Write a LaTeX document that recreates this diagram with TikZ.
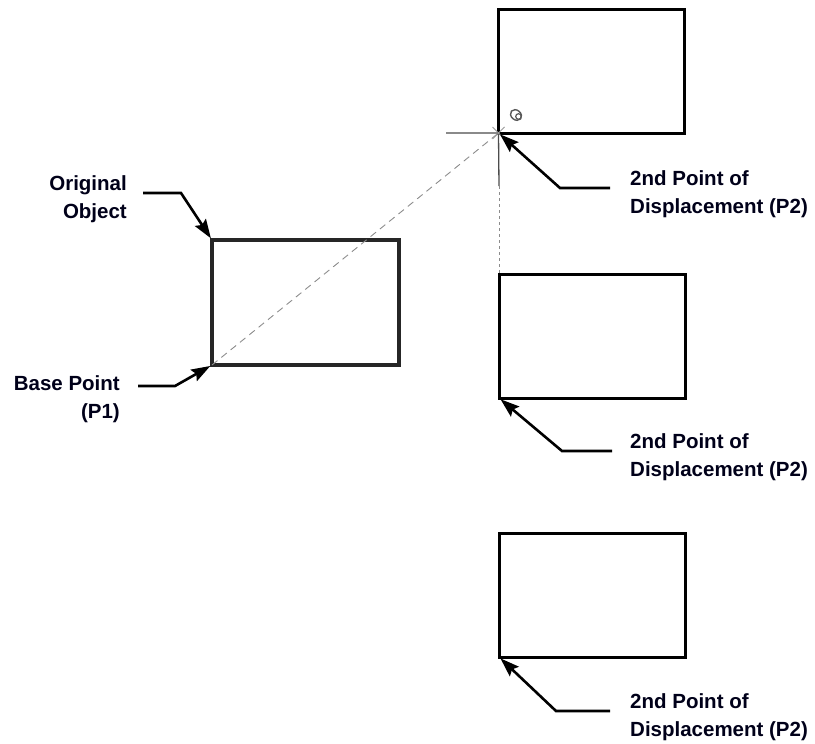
\documentclass[tikz,border=0pt]{standalone}
\usepackage{fontspec}
\setmainfont{Liberation Sans}
\usetikzlibrary{arrows.meta,calc}
\begin{document}
\begin{tikzpicture}[x=1pt,y=-1pt,
  objbox/.style={draw=black, line width=3pt, outer sep=0pt, inner sep=0pt,
                 minimum width=186pt, minimum height=124pt},
  origbox/.style={objbox, draw=black!85, line width=3.6pt, minimum width=187pt, minimum height=125pt},
  pointer/.style={line width=2.6pt, line join=miter,
                  -{Stealth[length=19pt,width=13pt,inset=3pt]}, shorten >=2pt},
  lbl/.style={font=\fontsize{20.5}{28}\selectfont\bfseries, text=black!90!blue,
              inner sep=0pt, anchor=north west, align=left},
  lblr/.style={lbl, anchor=north east, align=right},
  guide/.style={draw=black!45, line width=0.9pt, dash pattern=on 7pt off 5pt},
  cross/.style={draw=black!70, line width=1.3pt}]
\useasboundingbox (0,0) rectangle (815,744);

% the object and its three copies
\node[origbox] (orig) at (305.5,302.5) {};
\node[objbox]  (top)  at (591.5,71)   {};
\node[objbox]  (mid)  at (592,336)    {};
\node[objbox]  (bot)  at (592,595)    {};

% displacement guides
\draw[guide] (orig.south west) -- (top.south west);
\coordinate (crossL) at (446,133);
\coordinate (crossD) at (499,186);
\draw[cross] (crossL) -- (top.south west) -- (crossD);
\draw[draw=black!45, line width=0.9pt, dash pattern=on 3pt off 3pt] (crossD) -- (mid.north west);
\draw[draw=black!40, line width=0.8pt]
  ($(top.south west)+(-6,-6)$) -- ($(top.south west)+(6,6)$)
  ($(top.south west)+(-6,6)$) -- ($(top.south west)+(6,-6)$);
% snap marker
\draw[black!65, line width=1.4pt, rotate around={-40:(516,115)}] (516,115) ellipse (6pt and 4.8pt);
\draw[black!65, line width=1.2pt] (518.5,116.5) circle (2.8pt);

% labels
\node[lblr] (lOrig) at (127,175) {Original\\Object};
\node[lblr] (lBase) at (120,375) {Base Point\\(P1)};
\node[lbl]  (lTop)  at (630,170) {2nd Point of\\Displacement (P2)};
\node[lbl]  (lMid)  at (630,433) {2nd Point of\\Displacement (P2)};
\node[lbl]  (lBot)  at (630,693) {2nd Point of\\Displacement (P2)};

% leaders
\coordinate (aO1) at (143,193); \coordinate (aO2) at (181,193);
\coordinate (aB1) at (138,386); \coordinate (aB2) at (175,386);
\coordinate (aT1) at (610,188); \coordinate (aT2) at (560,188);
\coordinate (aM1) at (612,451); \coordinate (aM2) at (562,451);
\coordinate (aD1) at (610,711); \coordinate (aD2) at (556,711);
\draw[pointer] (aO1) -- (aO2) -- (orig.north west);
\draw[pointer] (aB1) -- (aB2) -- (orig.south west);
\draw[pointer] (aT1) -- (aT2) -- (top.south west);
\draw[pointer] (aM1) -- (aM2) -- (mid.south west);
\draw[pointer] (aD1) -- (aD2) -- (bot.south west);
\end{tikzpicture}
\end{document}
